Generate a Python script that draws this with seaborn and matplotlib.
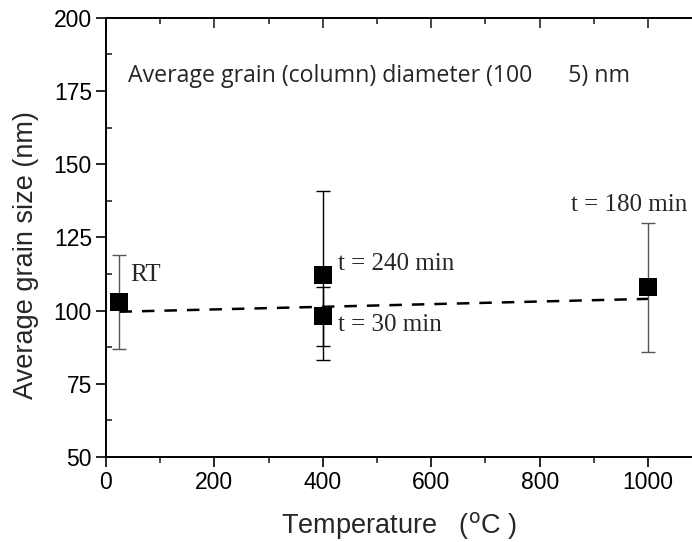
import numpy as np
import pandas as pd
import matplotlib
matplotlib.use("Agg")
import matplotlib.pyplot as plt
import seaborn as sns
from matplotlib.ticker import MultipleLocator

# data
temperature = [25, 400, 400, 1000]
grain_size = [103, 112, 98, 108]
grain_err = [16, 29, 10, 22]
err_colors = ["#555555", "black", "black", "#555555"]
point_labels = ["RT", "t = 240 min", "t = 30 min", "t = 180 min"]
label_pos_x = [44, 428, 428, 858]
label_pos_y = [112, 116, 95, 136]

fit_x = [25, 1000]
fit_y = [99.6, 104.0]

df = pd.DataFrame({"T": temperature, "d": grain_size})

sns.set_style("ticks")
plt.rcParams["font.family"] = ["Liberation Sans", "DejaVu Sans"]

fig = plt.figure(figsize=(6.92, 5.42), dpi=100)
ax = fig.add_axes([0.153, 0.157, 0.847, 0.810])

# dashed fit line
ax.plot(fit_x, fit_y, ls=(0, (5, 4)), color="black", lw=1.8, zorder=2)

# error bars
for x, y, e, c in zip(temperature, grain_size, grain_err, err_colors):
    ax.errorbar(x, y, yerr=e, fmt="none", ecolor=c, elinewidth=1.0,
                capsize=5, capthick=1.0, zorder=3)

sns.scatterplot(data=df, x="T", y="d", marker="s", s=170, color="black",
                edgecolor="black", linewidth=0, ax=ax, zorder=4)

for lab, lx, ly in zip(point_labels, label_pos_x, label_pos_y):
    ax.text(lx, ly, lab, fontsize=18, family="Liberation Serif",
            va="center", ha="left")

ax.text(0.038, 0.868, "Average grain (column) diameter (100      5) nm",
        transform=ax.transAxes, fontsize=16.7, family="Open Sans",
        va="center", ha="left")

ax.set_xlim(0, 1081)
ax.set_ylim(50, 200)
ax.xaxis.set_major_locator(MultipleLocator(200))
ax.xaxis.set_minor_locator(MultipleLocator(100))
ax.yaxis.set_major_locator(MultipleLocator(25))
ax.yaxis.set_minor_locator(MultipleLocator(12.5))

ax.tick_params(axis="both", which="major", labelsize=16.5, length=7,
               width=1.2, direction="out", colors="black", pad=3)
ax.tick_params(axis="both", which="minor", length=4, width=1.2,
               direction="out")
ax.tick_params(axis="y", which="minor", direction="in")
ax.tick_params(axis="x", which="both", top=False)

ax.spines["right"].set_visible(False)
for sp in ["left", "bottom", "top"]:
    ax.spines[sp].set_linewidth(1.4)
    ax.spines[sp].set_color("black")

# top ticks point inward, bottom outward
sec = ax.secondary_xaxis("top")
sec.set_xticks(np.arange(0, 1001, 200))
sec.xaxis.set_minor_locator(MultipleLocator(100))
sec.tick_params(which="major", direction="in", length=7, width=1.2,
                labeltop=False)
sec.tick_params(which="minor", direction="in", length=4, width=1.2)
sec.spines["top"].set_visible(False)

ax.set_xlabel("Temperature   ($^\\mathrm{o}$C )", fontsize=19.5)
ax.set_ylabel("Average grain size (nm)", fontsize=19.5)
ax.xaxis.set_label_coords(0.5, -0.122)
ax.yaxis.set_label_coords(-0.114, 0.46)

fig.savefig("out.png", dpi=100)
